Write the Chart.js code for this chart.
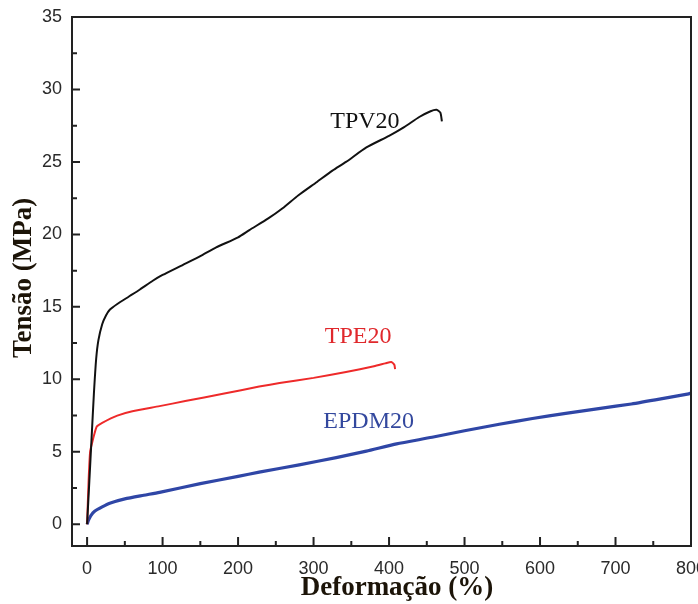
<!DOCTYPE html>
<html>
<head>
<meta charset="utf-8">
<script src="https://cdn.jsdelivr.net/npm/chart.js@4/dist/chart.umd.min.js"></script>
<style>
  html, body { margin: 0; padding: 0; background: #fff; }
  #wrap { width: 698px; height: 604px; }
</style>
</head>
<body>
<div id="wrap"><canvas id="canvas" width="698" height="604"></canvas></div>
<script>
// tick labels
var xTicks = [0, 100, 200, 300, 400, 500, 600, 700, 800];
var yTicks = [0, 5, 10, 15, 20, 25, 30, 35];

// TPV20 (black)
var tpvX = [0, 3, 6, 9, 12, 15, 20, 25, 30, 40, 55, 70, 87, 100, 127, 150, 171, 200, 215, 240, 259, 280, 304, 325, 343, 370, 400, 420, 440, 455, 463, 468, 470];
var tpvY = [0, 3, 6, 9, 11.4, 12.7, 13.8, 14.4, 14.8, 15.2, 15.7, 16.2, 16.8, 17.2, 17.9, 18.5, 19.1, 19.8, 20.3, 21.1, 21.8, 22.7, 23.6, 24.4, 25.0, 26.0, 26.8, 27.4, 28.1, 28.5, 28.6, 28.4, 27.8];

// TPE20 (red)
var tpeX = [0, 2, 4, 7, 10, 13, 20, 40, 60, 96, 130, 180, 228, 255, 300, 343, 380, 395, 403, 407, 408];
var tpeY = [0, 3, 5, 5.7, 6.3, 6.75, 7.0, 7.5, 7.8, 8.15, 8.5, 9.0, 9.5, 9.75, 10.1, 10.5, 10.9, 11.1, 11.2, 11.0, 10.7];

// EPDM20 (blue)
var epdmX = [0, 2, 5, 10, 20, 30, 50, 75, 96, 150, 200, 228, 281, 330, 370, 410, 457, 500, 546, 590, 634, 680, 721, 760, 797, 800];
var epdmY = [0, 0.3, 0.6, 0.9, 1.2, 1.45, 1.75, 2.0, 2.2, 2.8, 3.3, 3.6, 4.1, 4.6, 5.05, 5.55, 6.0, 6.45, 6.9, 7.3, 7.65, 8.0, 8.3, 8.65, 9.0, 9.05];

function pts(xs, ys) {
  return xs.map(function(x, i) { return { x: x, y: ys[i] }; });
}

var frameColor = '#222';
var tickFont = { family: '"Liberation Sans", Arial, sans-serif', size: 18 };

var framePlugin = {
  id: 'frame',
  afterDraw: function(chart) {
    var ctx = chart.ctx;
    var a = chart.chartArea;
    var xs = chart.scales.x, ys = chart.scales.y;
    ctx.save();
    ctx.strokeStyle = frameColor;
    ctx.lineWidth = 2;
    ctx.strokeRect(a.left, a.top, a.right - a.left, a.bottom - a.top);

    // inward ticks, major and minor
    ctx.beginPath();
    xTicks.forEach(function(v) {
      var px = xs.getPixelForValue(v);
      ctx.moveTo(px, a.bottom); ctx.lineTo(px, a.bottom - 9);
      if (v + 50 < 800) {
        var mx = xs.getPixelForValue(v + 50);
        ctx.moveTo(mx, a.bottom); ctx.lineTo(mx, a.bottom - 5);
      }
    });
    yTicks.forEach(function(v) {
      var py = ys.getPixelForValue(v);
      ctx.moveTo(a.left, py); ctx.lineTo(a.left + 8, py);
      if (v + 2.5 < 35) {
        var my = ys.getPixelForValue(v + 2.5);
        ctx.moveTo(a.left, my); ctx.lineTo(a.left + 5, my);
      }
    });
    ctx.stroke();

    // curve labels
    ctx.font = '24px "Liberation Serif", "Times New Roman", serif';
    ctx.textAlign = 'center';
    ctx.textBaseline = 'middle';
    ctx.fillStyle = '#111';
    ctx.fillText('TPV20', xs.getPixelForValue(368), ys.getPixelForValue(27.8));
    ctx.fillStyle = '#e0282c';
    ctx.fillText('TPE20', xs.getPixelForValue(359), ys.getPixelForValue(12.95));
    ctx.fillStyle = '#33489e';
    ctx.fillText('EPDM20', xs.getPixelForValue(373), ys.getPixelForValue(7.1));

    // axis titles
    ctx.fillStyle = '#1c1408';
    ctx.font = 'bold 27px "Liberation Serif", "Times New Roman", serif';
    ctx.fillText('Deformação (%)', 397, 588);
    ctx.translate(24, 278);
    ctx.rotate(-Math.PI / 2);
    ctx.fillText('Tensão (MPa)', 0, 0);
    ctx.restore();
  }
};

var ctx = document.getElementById('canvas').getContext('2d');
new Chart(ctx, {
  type: 'line',
  data: {
    datasets: [
      { label: 'TPV20', data: pts(tpvX, tpvY), borderColor: '#111', borderWidth: 2 },
      { label: 'TPE20', data: pts(tpeX, tpeY), borderColor: '#ee2a2a', borderWidth: 2 },
      { label: 'EPDM20', data: pts(epdmX, epdmY), borderColor: '#2f46a6', borderWidth: 3.2 }
    ]
  },
  options: {
    responsive: false,
    animation: false,
    events: [],
    elements: { point: { radius: 0 }, line: { tension: 0.2 } },
    layout: { padding: { left: 0, top: 17, right: 7, bottom: 0 } },
    plugins: { legend: { display: false }, tooltip: { enabled: false } },
    scales: {
      x: {
        type: 'linear',
        min: -20,
        max: 800,
        afterBuildTicks: function(s) { s.ticks = xTicks.map(function(v) { return { value: v }; }); },
        afterFit: function(s) { s.height = 58; s.paddingLeft = 0; s.paddingRight = 0; },
        grid: { display: false, drawTicks: false },
        border: { display: false },
        ticks: { font: tickFont, color: '#2a2a2a', padding: 12, maxRotation: 0, autoSkip: false }
      },
      y: {
        type: 'linear',
        min: -1.5,
        max: 35,
        afterBuildTicks: function(s) { s.ticks = yTicks.map(function(v) { return { value: v }; }); },
        afterFit: function(s) { s.width = 72; s.paddingTop = 0; s.paddingBottom = 0; },
        grid: { display: false, drawTicks: false },
        border: { display: false },
        ticks: { font: tickFont, color: '#2a2a2a', padding: 10, autoSkip: false }
      }
    }
  },
  plugins: [framePlugin]
});
</script>
</body>
</html>
